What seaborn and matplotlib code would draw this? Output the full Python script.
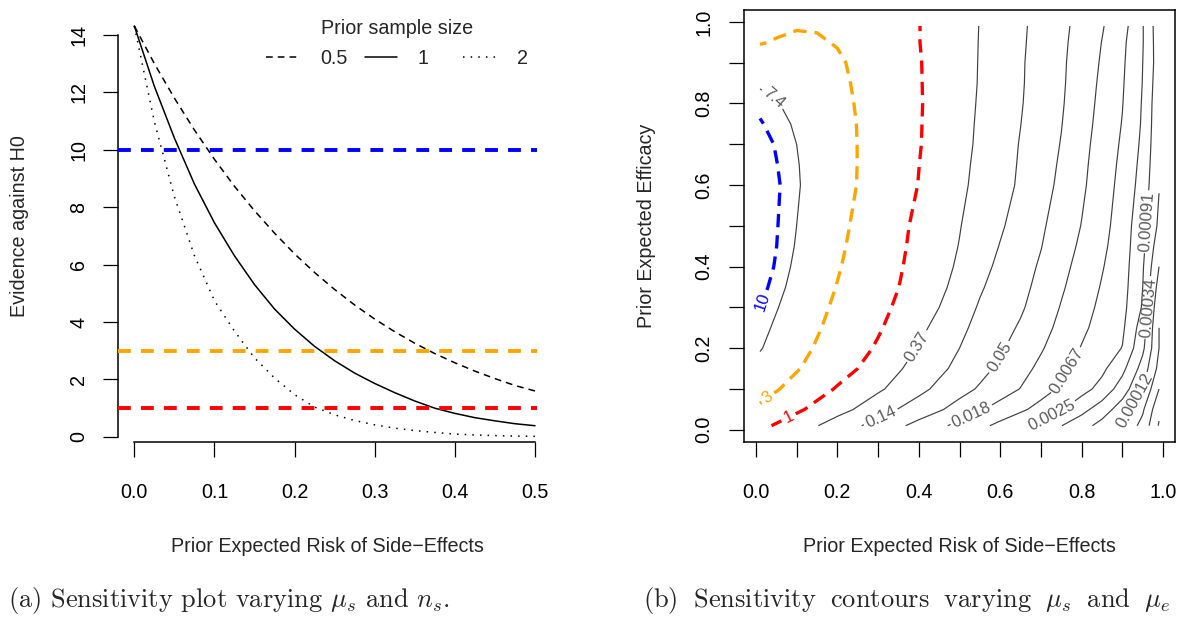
import numpy as np
import pandas as pd
import matplotlib
matplotlib.use("Agg")
import matplotlib.pyplot as plt
import seaborn as sns

# ---------------------------------------------------------------
# Panel (a): evidence against H0 as the prior expected risk of
# side-effects grows, for three prior sample sizes (efficacy 0.5)
# ---------------------------------------------------------------
risk = [0.0, 0.025, 0.05, 0.075, 0.1, 0.125, 0.15, 0.175, 0.2, 0.225, 0.25,
        0.275, 0.3, 0.325, 0.35, 0.375, 0.4, 0.425, 0.45, 0.475, 0.5]
evidence_n05 = [14.3, 12.99, 11.79, 10.68, 9.66, 8.72, 7.87, 7.09, 6.37, 5.72, 5.13,
                4.59, 4.10, 3.66, 3.26, 2.90, 2.58, 2.29, 2.03, 1.79, 1.60]
evidence_n1 = [14.3, 12.2, 10.4, 8.8, 7.45, 6.3, 5.3, 4.45, 3.75, 3.15, 2.65,
               2.22, 1.86, 1.54, 1.25, 1.0, 0.82, 0.67, 0.56, 0.46, 0.39]
evidence_n2 = [14.3, 10.97, 8.36, 6.31, 4.74, 3.68, 2.75, 2.05, 1.47, 1.04, 0.77,
               0.57, 0.42, 0.306, 0.22, 0.156, 0.10, 0.069, 0.046, 0.030, 0.020]
sample_sizes = ["0.5", "1", "2"]

# Evidence thresholds drawn as reference lines / highlighted contours
thresholds = [10, 3, 1]
threshold_colors = ["#0000FF", "#FFA500", "#FF0000"]

# ---------------------------------------------------------------
# Panel (b): log evidence over prior expected risk (columns) and
# prior expected efficacy (rows), prior sample size 1
# ---------------------------------------------------------------
mu_s = [0.01, 0.05, 0.1, 0.15, 0.2, 0.25, 0.3, 0.35, 0.4, 0.45, 0.5,
        0.55, 0.6, 0.65, 0.7, 0.75, 0.8, 0.85, 0.9, 0.95, 0.99]
mu_e = [0.01, 0.05, 0.1, 0.15, 0.2, 0.25, 0.3, 0.35, 0.4, 0.45, 0.5, 0.6, 0.65,
        0.7, 0.75, 0.8, 0.85, 0.9, 0.95, 0.99]
log_evidence = [
    [0.24, -0.10, -0.54, -0.97, -1.44, -1.91, -2.37, -2.83, -3.31, -3.80, -4.28, -4.75, -5.26, -5.79, -6.37, -6.98, -7.62, -8.34, -9.19, -10.3, -12.1],
    [0.95, 0.60, 0.17, -0.26, -0.67, -1.09, -1.56, -2.03, -2.46, -2.89, -3.38, -3.90, -4.36, -4.82, -5.34, -5.91, -6.68, -7.5, -8.5, -9.86, -11.75],
    [1.45, 1.17, 0.76, 0.34, -0.08, -0.47, -0.86, -1.29, -1.75, -2.21, -2.66, -3.11, -3.57, -4.03, -4.60, -5.15, -5.65, -6.33, -7.5, -9.0, -11.0],
    [1.75, 1.49, 1.17, 0.79, 0.39, 0.0, -0.45, -0.91, -1.35, -1.80, -2.25, -2.71, -3.18, -3.68, -4.22, -4.82, -5.32, -5.79, -6.73, -8.4, -10.3],
    [2.05, 1.74, 1.38, 1.02, 0.65, 0.28, -0.11, -0.58, -1.06, -1.53, -2.0, -2.44, -2.88, -3.39, -3.91, -4.48, -5.05, -5.53, -6.03, -7.8, -10.0],
    [2.19, 1.90, 1.54, 1.18, 0.82, 0.46, 0.10, -0.32, -0.78, -1.27, -1.80, -2.26, -2.67, -3.11, -3.67, -4.24, -4.82, -5.34, -5.83, -7.5, -10.0],
    [2.32, 2.04, 1.68, 1.31, 0.95, 0.60, 0.25, -0.13, -0.57, -1.0, -1.57, -2.09, -2.49, -2.88, -3.44, -4.06, -4.65, -5.2, -5.71, -7.1, -9.8],
    [2.43, 2.17, 1.80, 1.43, 1.07, 0.72, 0.36, 0.01, -0.39, -0.80, -1.30, -1.90, -2.34, -2.75, -3.25, -3.88, -4.48, -5.07, -5.62, -7.0, -9.4],
    [2.54, 2.26, 1.89, 1.53, 1.17, 0.81, 0.45, 0.09, -0.30, -0.70, -1.13, -1.70, -2.20, -2.64, -3.11, -3.72, -4.33, -4.94, -5.56, -6.9, -9.0],
    [2.58, 2.31, 1.96, 1.61, 1.25, 0.89, 0.52, 0.15, -0.23, -0.63, -1.03, -1.54, -2.04, -2.50, -2.97, -3.56, -4.17, -4.80, -5.52, -6.75, -8.6],
    [2.60, 2.33, 2.0, 1.66, 1.31, 0.96, 0.58, 0.20, -0.18, -0.57, -0.96, -1.42, -1.89, -2.37, -2.86, -3.43, -4.03, -4.68, -5.46, -6.67, -8.2],
    [2.59, 2.36, 2.06, 1.74, 1.41, 1.08, 0.71, 0.34, -0.02, -0.42, -0.82, -1.24, -1.68, -2.13, -2.65, -3.20, -3.84, -4.53, -5.30, -6.4, -7.95],
    [2.55, 2.32, 2.04, 1.73, 1.41, 1.09, 0.73, 0.37, 0.01, -0.38, -0.78, -1.19, -1.63, -2.09, -2.59, -3.12, -3.78, -4.46, -5.22, -6.3, -7.87],
    [2.48, 2.27, 2.0, 1.70, 1.39, 1.09, 0.74, 0.39, 0.05, -0.34, -0.73, -1.14, -1.59, -2.05, -2.54, -3.04, -3.71, -4.39, -5.13, -6.2, -7.8],
    [2.34, 2.17, 1.93, 1.65, 1.37, 1.08, 0.74, 0.40, 0.06, -0.32, -0.71, -1.11, -1.55, -1.99, -2.48, -2.97, -3.63, -4.31, -5.04, -6.12, -7.75],
    [2.2, 2.04, 1.80, 1.56, 1.31, 1.05, 0.72, 0.40, 0.07, -0.30, -0.68, -1.08, -1.51, -1.94, -2.42, -2.91, -3.55, -4.25, -4.97, -6.08, -7.7],
    [1.92, 1.85, 1.70, 1.50, 1.28, 1.0, 0.68, 0.37, 0.06, -0.30, -0.67, -1.05, -1.48, -1.91, -2.39, -2.87, -3.49, -4.18, -4.91, -6.03, -7.6],
    [1.53, 1.55, 1.53, 1.42, 1.22, 0.93, 0.63, 0.34, 0.05, -0.30, -0.67, -1.04, -1.47, -1.90, -2.37, -2.85, -3.44, -4.10, -4.85, -6.0, -7.5],
    [1.05, 1.15, 1.2, 1.18, 1.05, 0.79, 0.54, 0.28, 0.02, -0.32, -0.67, -1.03, -1.45, -1.87, -2.33, -2.81, -3.38, -4.02, -4.78, -5.95, -7.55],
    [0.85, 0.95, 1.06, 1.04, 0.88, 0.70, 0.50, 0.27, 0.02, -0.31, -0.66, -1.02, -1.43, -1.85, -2.3, -2.78, -3.3, -3.93, -4.62, -5.95, -7.6],
]
# grey contours sit at evidence = exp(k)
gray_exponents = [-12, -11, -10, -9, -8, -7, -6, -5, -4, -3, -2, -1, 2]

# label anchor points (risk, efficacy) for the contour labels
gray_label_pos = [(0.045, 0.815), (0.397, 0.204), (0.305, 0.035), (0.603, 0.175),
                  (0.53, 0.035), (0.768, 0.142), (0.725, 0.04), (0.96, 0.51),
                  (0.962, 0.30), (0.925, 0.075)]
color_label_pos = [(0.018, 0.314), (0.030, 0.078), (0.079, 0.033)]

# ---------------------------------------------------------------
sns.set_style("white")
plt.rcParams["font.family"] = ["Liberation Sans", "DejaVu Sans"]
plt.rcParams["mathtext.fontset"] = "cm"

W, H = 1180, 618
fig = plt.figure(figsize=(W / 100, H / 100), dpi=100)
fig.patch.set_facecolor("white")

bottom_px, top_px = 441.7, 10.0
axL = fig.add_axes([118.3 / W, 1 - bottom_px / H, (537 - 118.3) / W, (bottom_px - top_px) / H])
axR = fig.add_axes([744 / W, 1 - bottom_px / H, (1175 - 744) / W, (bottom_px - top_px) / H])

FS = 14.2
TICK_LEN = 10.8

# ---------------- panel (a) ----------------
df = pd.DataFrame({
    "risk": risk * 3,
    "evidence": evidence_n05 + evidence_n1 + evidence_n2,
    "n": [sample_sizes[0]] * len(risk) + [sample_sizes[1]] * len(risk) + [sample_sizes[2]] * len(risk),
})
sns.lineplot(data=df, x="risk", y="evidence", style="n", style_order=sample_sizes,
             dashes={"0.5": (4.4, 3.3), "1": "", "2": (1, 4)},
             color="black", linewidth=1.1, ax=axL, legend=True, zorder=2)

for t, c in zip(thresholds, threshold_colors):
    axL.axhline(t, color=c, linewidth=2.8, dashes=(3.3, 2.6), zorder=3)

axL.set_xlim(-0.02, 0.5025)
axL.set_ylim(-0.166, 14.856)
for side in ["top", "right"]:
    axL.spines[side].set_visible(False)
axL.spines["left"].set_bounds(0, 14)
axL.spines["bottom"].set_bounds(0, 0.5)
for side in ["left", "bottom"]:
    axL.spines[side].set_linewidth(1.1)
    axL.spines[side].set_color("black")

axL.set_xticks([0, 0.1, 0.2, 0.3, 0.4, 0.5])
axL.set_xticklabels(["0.0", "0.1", "0.2", "0.3", "0.4", "0.5"])
axL.set_yticks(list(range(0, 15, 2)))
axL.set_yticklabels([str(v) for v in range(0, 15, 2)], rotation=90, va="center")
axL.tick_params(axis="x", direction="out", length=TICK_LEN, width=0.9, labelsize=FS, pad=19,
                bottom=True, colors="black")
axL.tick_params(axis="y", direction="out", length=TICK_LEN, width=0.9, labelsize=FS, pad=11,
                left=True, colors="black")

axL.set_xlabel("Prior Expected Risk of Side\u2212Effects", fontsize=FS)
axL.set_ylabel("Evidence against H0", fontsize=FS)
axL.xaxis.set_label_coords(0.5, (bottom_px - 547) / (bottom_px - top_px))
axL.xaxis.label.set_va("center")
axL.yaxis.set_label_coords((20 - 118.3) / (537 - 118.3), 0.5)
axL.yaxis.label.set_va("center")

old = axL.get_legend()
handles = list(old.legend_handles)
old.remove()
axL.legend(handles, ["0.5", "1   ", "2"], title="Prior sample size", ncol=3,
           frameon=False, fontsize=FS, title_fontsize=FS, loc="upper center",
           bbox_to_anchor=(397 / W, 1 - 19 / H), bbox_transform=fig.transFigure,
           borderpad=0, borderaxespad=0, handlelength=1.65, handletextpad=1.08,
           columnspacing=0.88, labelspacing=0.55)

# ---------------- panel (b) ----------------
S, E = np.meshgrid(np.array(mu_s), np.array(mu_e))
Z = np.array(log_evidence)

cs_gray = axR.contour(S, E, Z, levels=gray_exponents, colors="#404040", linewidths=0.85,
                      negative_linestyles="solid")
gray_fmt = {lv: f"{np.exp(lv):.2g}" for lv in cs_gray.levels}
axR.clabel(cs_gray, inline=True, fmt=gray_fmt, fontsize=12, colors="#5a5a5a",
           manual=gray_label_pos, inline_spacing=4)

color_levels = sorted(np.log(thresholds))
color_cols = [threshold_colors[thresholds.index(v)] for v in sorted(thresholds)]
cs_col = axR.contour(S, E, Z, levels=color_levels, colors=color_cols, linewidths=2.4,
                     linestyles=[(0, (4.0, 2.4))])
col_fmt = {lv: f"{np.exp(lv):.0f}" for lv in cs_col.levels}
axR.clabel(cs_col, inline=True, fmt=col_fmt, fontsize=12, manual=color_label_pos,
           inline_spacing=4)

pad_frac = 0.04 * (mu_s[-1] - mu_s[0])
axR.set_xlim(mu_s[0] - pad_frac, mu_s[-1] + pad_frac)
pad_frac_e = 0.04 * (mu_e[-1] - mu_e[0])
axR.set_ylim(mu_e[0] - pad_frac_e, mu_e[-1] + pad_frac_e)
for side in axR.spines.values():
    side.set_linewidth(1.1)
    side.set_color("black")

ticks = [round(0.1 * i, 1) for i in range(11)]
tick_labels = [f"{v:.1f}" if i % 2 == 0 else "" for i, v in enumerate(ticks)]
axR.set_xticks(ticks)
axR.set_xticklabels(tick_labels)
axR.set_yticks(ticks)
axR.set_yticklabels(tick_labels, rotation=90, va="center")
axR.tick_params(axis="x", direction="out", length=TICK_LEN, width=0.9, labelsize=FS, pad=19,
                bottom=True, colors="black")
axR.tick_params(axis="y", direction="out", length=TICK_LEN, width=0.9, labelsize=FS, pad=11,
                left=True, colors="black")

axR.set_xlabel("Prior Expected Risk of Side\u2212Effects", fontsize=FS)
axR.set_ylabel("Prior Expected Efficacy", fontsize=FS)
axR.xaxis.set_label_coords(0.5, (bottom_px - 547) / (bottom_px - top_px))
axR.xaxis.label.set_va("center")
axR.yaxis.set_label_coords((646 - 744) / (1175 - 744), 0.5)
axR.yaxis.label.set_va("center")

# ---------------- captions ----------------
cap_y = 1 - 600 / H
fig.text(229 / W, cap_y, r"(a) Sensitivity plot varying $\mu_s$ and $n_s$.",
         ha="center", va="center", fontsize=19, family="cmr10")
# the second caption is a justified first line, so its word gaps are a little wider
fig.text(643 / W, cap_y,
         r"(b) $\;$Sensitivity $\;$contours $\;$varying $\;\mu_s$ $\;$and $\;\mu_e$",
         ha="left", va="center", fontsize=19, family="cmr10")

fig.savefig("out.png", dpi=100)
